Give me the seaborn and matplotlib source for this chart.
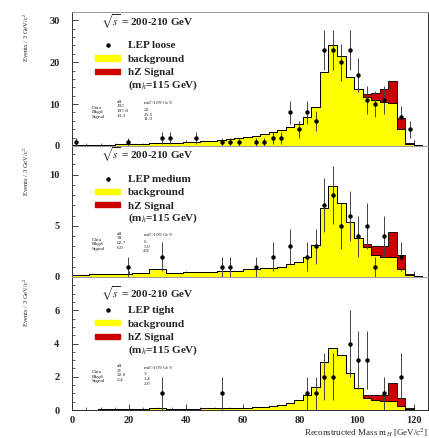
import numpy as np
import pandas as pd
import matplotlib
matplotlib.use("Agg")
import matplotlib.pyplot as plt
from matplotlib.patches import Patch
from matplotlib.lines import Line2D
from matplotlib.ticker import MultipleLocator
import seaborn as sns

# ---------------------------------------------------------------------------
# Binning: 3 GeV/c^2 bins, lower edges 0 ... 120
# ---------------------------------------------------------------------------
bin_width = 3.0
bin_range = (0.0, 123.0)
bin_low = np.arange(bin_range[0], bin_range[1], bin_width)
bin_mid = bin_low + bin_width / 2

# Expected background per bin (41 bins)
bkg_loose = [0.30, 0.30, 0.30, 0.30, 0.35, 0.40, 0.40, 0.45, 0.50, 0.60,
             0.70, 0.80, 0.80, 0.90, 1.00, 1.10, 1.20, 1.40, 1.60, 1.80,
             2.20, 2.50, 2.90, 3.30, 3.90, 4.50, 5.20, 7.00, 9.40, 17.7,
             24.2, 21.5, 16.5, 13.5, 11.8, 11.0, 10.5, 10.3, 4.00, 0.50,
             0.20]
bkg_medium = [0.20, 0.20, 0.25, 0.25, 0.30, 0.30, 0.30, 0.35, 0.40, 0.80,
              0.80, 0.40, 0.40, 0.45, 0.45, 0.45, 0.50, 0.55, 0.55, 0.60,
              0.75, 0.80, 0.85, 0.90, 1.00, 1.30, 1.50, 2.00, 3.10, 6.70,
              8.90, 7.20, 5.40, 3.80, 2.90, 2.10, 2.00, 2.00, 0.80, 0.15,
              0.05]
bkg_tight = [0.02, 0.02, 0.03, 0.04, 0.05, 0.06, 0.06, 0.07, 0.08, 0.10,
             0.10, 0.08, 0.08, 0.09, 0.09, 0.10, 0.10, 0.11, 0.12, 0.12,
             0.14, 0.16, 0.18, 0.22, 0.30, 0.40, 0.60, 0.90, 1.40, 2.90,
             3.70, 3.30, 2.20, 1.30, 0.75, 0.60, 0.55, 0.55, 0.25, 0.05,
             0.02]

# Expected hZ signal (m_h = 115 GeV) per bin, bins 102 ... 120
sig_mass = [103.5, 106.5, 109.5, 112.5, 115.5, 118.5]
sig_loose = [0.6, 1.6, 3.0, 5.2, 2.6, 0.2]
sig_medium = [0.3, 0.9, 1.0, 2.4, 1.3, 0.1]
sig_tight = [0.15, 0.30, 0.35, 1.10, 0.50, 0.05]

# Observed candidates (bin centre, events)
data_mass_loose = [1.5, 19.5, 31.5, 34.5, 43.5, 52.5, 55.5, 58.5, 64.5, 67.5,
                   70.5, 73.5, 76.5, 79.5, 82.5, 85.5, 88.5, 91.5, 94.5, 97.5,
                   100.5, 103.5, 106.5, 109.5, 115.5, 118.5]
data_loose = [1, 1, 2, 2, 2, 1, 1, 1, 1, 1,
              2, 2, 8, 4, 8, 6, 23, 23, 20, 23,
              17, 11, 10, 11, 7, 4]
data_mass_medium = [19.5, 31.5, 52.5, 55.5, 64.5, 70.5, 76.5, 82.5, 85.5,
                    88.5, 91.5, 94.5, 97.5, 100.5, 103.5, 106.5, 109.5, 115.5]
data_medium = [1, 2, 1, 1, 1, 2, 3, 2, 3,
               7, 8, 5, 6, 4, 5, 1, 4, 2]
data_mass_tight = [31.5, 52.5, 82.5, 85.5, 88.5, 91.5, 97.5, 100.5, 103.5,
                   109.5, 115.5]
data_tight = [1, 1, 1, 1, 2, 2, 4, 3, 3, 1, 2]

# label, background, signal, data x, data y, y max, minor step, major ticks, title height
panels = [
    ("LEP loose", bkg_loose, sig_loose, data_mass_loose, data_loose, 32.0, 2, [0, 10, 20, 30], 0.925),
    ("LEP medium", bkg_medium, sig_medium, data_mass_medium, data_medium, 12.8, 1, [0, 5, 10], 0.93),
    ("LEP tight", bkg_tight, sig_tight, data_mass_tight, data_tight, 8.0, 0.5, [0, 2, 4, 6], 0.87),
]

YELLOW = "#ffff00"
RED = "#cc0000"
SERIF = ["Liberation Serif", "DejaVu Serif"]

sns.set_theme(style="ticks")
plt.rcParams["font.family"] = SERIF
plt.rcParams["mathtext.fontset"] = "stix"

fig = plt.figure(figsize=(4.29, 4.38), dpi=100)
left, right = 0.168, 0.998
bounds = [(0.6667, 0.9726), (0.3676, 0.6667), (0.0639, 0.3676)]

for i, (label, bkg, sig, dmass, dcount, ymax, yminor, yticks, title_y) in enumerate(panels):
    lo, hi = bounds[i]
    ax = fig.add_axes([left, lo, right - left, hi - lo])

    df = pd.concat([
        pd.DataFrame({"mass": bin_mid, "events": bkg, "component": "background"}),
        pd.DataFrame({"mass": sig_mass, "events": sig, "component": "signal"}),
    ], ignore_index=True)

    # stacked expectation: background at the bottom, signal on top
    sns.histplot(data=df, x="mass", weights="events", hue="component",
                 hue_order=["signal", "background"], multiple="stack",
                 binwidth=bin_width, binrange=bin_range, element="step",
                 fill=True, alpha=1.0,
                 palette={"background": YELLOW, "signal": RED},
                 edgecolor="black", linewidth=0.6, legend=False, ax=ax)

    counts = np.asarray(dcount, dtype=float)
    ax.errorbar(dmass, counts, yerr=np.sqrt(counts), fmt="o", ms=2.2,
                color="black", ecolor="#444444", elinewidth=0.7, capsize=0,
                zorder=5)

    ax.set_xlim(0, 125)
    ax.set_ylim(0, ymax)
    ax.set_yticks(yticks)
    ax.yaxis.set_minor_locator(MultipleLocator(yminor))
    ax.xaxis.set_major_locator(MultipleLocator(20))
    ax.xaxis.set_minor_locator(MultipleLocator(5))
    ax.tick_params(which="both", direction="in", top=False, right=False,
                   labelsize=7.5)
    ax.tick_params(axis="x", pad=4)
    ax.tick_params(axis="y", pad=9)
    ax.tick_params(which="major", length=4, width=0.6)
    ax.tick_params(which="minor", length=2, width=0.5)
    for t in ax.get_yticklabels() + ax.get_xticklabels():
        t.set_fontweight("bold")
    for s in ax.spines.values():
        s.set_linewidth(0.7)
        s.set_color("#333333")
    ax.spines["top"].set_color("#999999")

    ax.set_xlabel("")
    ax.set_ylabel("Events / 3 GeV/c$^2$", fontsize=4.8, loc="top")
    ax.yaxis.set_label_coords(-0.115, 1.0)
    if i < 2:
        ax.tick_params(axis="x", labelbottom=False)
    else:
        ax.set_xlabel("Reconstructed Mass m$_H$ [GeV/c$^2$]", fontsize=6.5,
                      loc="right", labelpad=1)

    ax.text(0.21, title_y, r"$\sqrt{s}$ = 200-210 GeV", transform=ax.transAxes,
            ha="center", va="center", fontsize=8, fontweight="bold")

    handles = [
        Line2D([], [], marker="o", color="black", linestyle="none", ms=2.2),
        Patch(facecolor=YELLOW, edgecolor=YELLOW),
        Patch(facecolor=RED, edgecolor=RED),
    ]
    labels = [label, "background", "hZ Signal"]
    ax.legend(handles, labels, loc="upper left", bbox_to_anchor=(0.065, 0.78),
              frameon=False, prop={"family": SERIF, "weight": "bold", "size": 8},
              handlelength=2.25, handleheight=0.35, handletextpad=0.7,
              labelspacing=0.4, borderpad=0, borderaxespad=0)
    ax.text(0.157, 0.45, "(m$_h$=115 GeV)", transform=ax.transAxes,
            ha="left", va="center", fontsize=8, fontweight="bold")

    # candidate / expectation summary
    cnt = np.asarray(dcount, float)
    dm = np.asarray(dmass, float)
    n_all, n_hi = int(cnt.sum()), int(cnt[dm > 109].sum())
    b_all = float(np.sum(bkg))
    b_hi = float(np.sum(np.asarray(bkg)[bin_low >= 108]))
    s_all = float(np.sum(sig))
    s_hi = float(np.sum(np.asarray(sig)[np.asarray(sig_mass) > 109]))
    fs = 3.8
    ax.text(0.055, 0.30, "Data\nBkgd\nSignal", transform=ax.transAxes,
            fontsize=fs, va="top", linespacing=1.2)
    ax.text(0.125, 0.345, f"all\n{n_all}\n{b_all:.1f}\n{s_all:.1f}",
            transform=ax.transAxes, fontsize=fs, va="top", linespacing=1.2)
    ax.text(0.20, 0.345, f"m$_H$>109 GeV\n{n_hi}\n{b_hi:.1f}\n{s_hi:.1f}",
            transform=ax.transAxes, fontsize=fs, va="top", linespacing=1.2)

fig.savefig("out.png", dpi=100)
